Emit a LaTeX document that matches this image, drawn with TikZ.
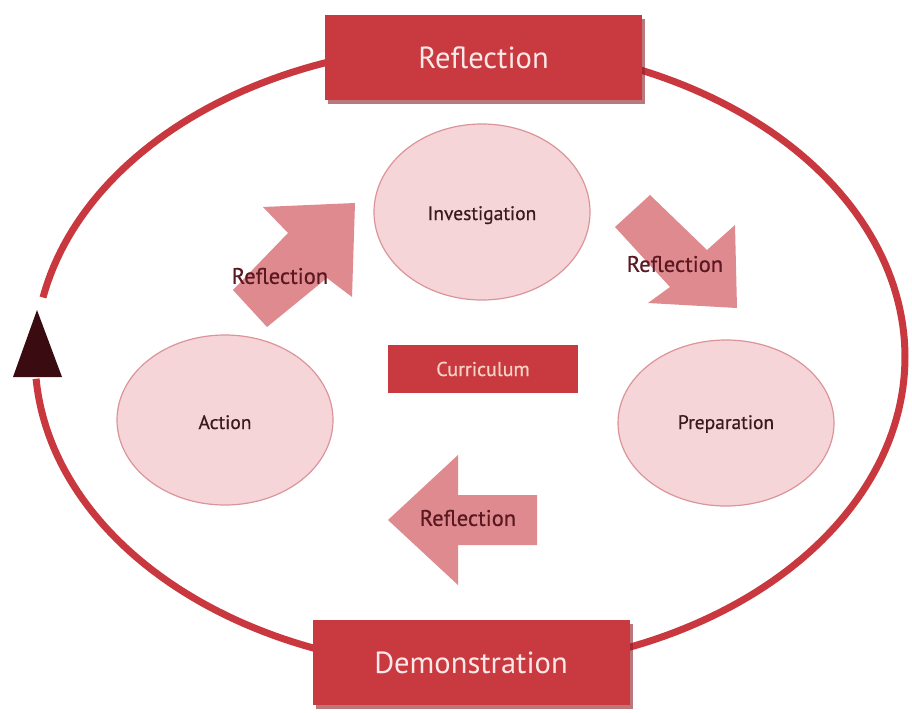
\documentclass[tikz,border=0pt]{standalone}
\usepackage{fontspec}
\setmainfont{PT Sans}
\newfontfamily\semifont[FakeBold=0.6]{PT Sans}
\usetikzlibrary{shapes.geometric,shadows}
\definecolor{ringred}{HTML}{C8383E}
\definecolor{boxred}{HTML}{C93A40}
\definecolor{boxshade}{HTML}{8E1F25}
\definecolor{boxtext}{HTML}{FBE9E9}
\definecolor{currtext}{HTML}{F7D3C6}
\definecolor{ovalfill}{HTML}{F5D5D8}
\definecolor{ovalline}{HTML}{DC9499}
\definecolor{arrowfill}{HTML}{DE8A8F}
\definecolor{arrowtext}{HTML}{5B1820}
\definecolor{ovaltext}{HTML}{3A1A1E}
\definecolor{tipdark}{HTML}{3A0B10}
\begin{document}
\begin{tikzpicture}[x=1pt,y=-1pt,
 bigbox/.style={draw=none, fill=boxred, text=boxtext, minimum width=317pt, minimum height=85pt, inner sep=0pt, font=\fontsize{30.5}{33}\selectfont, drop shadow={fill=boxshade, opacity=0.6, shadow xshift=3pt, shadow yshift=-4pt}},
 oval/.style={ellipse, draw=ovalline, line width=1.2pt, fill=ovalfill, text=ovaltext, minimum width=216pt, minimum height=172pt, font=\semifont\fontsize{19.5}{22}\selectfont, inner sep=0pt},
 bigarrow/.style={fill=arrowfill, draw=none},
 arrowlabel/.style={text=arrowtext, font=\semifont\fontsize{22.5}{25}\selectfont, inner sep=0pt},
 smallbox/.style={fill=boxred, text=currtext, minimum width=190pt, minimum height=48pt, inner sep=0pt, font=\semifont\fontsize{20}{22}\selectfont},
 ovaltxt/.style={text=ovaltext, font=\semifont\fontsize{19.5}{22}\selectfont, inner sep=0pt, anchor=base},
]
\useasboundingbox (0,0) rectangle (912,712);
\fill[white] (0,0) rectangle (912,712);
% outer cycle
\draw[ringred, line width=7pt] plot[domain=191:536, samples=240, variable=\t] ({470+435*cos(\t)},{357+312*sin(\t)});
\fill[tipdark] (13,377) -- (62,377) -- (37,310) -- cycle;
% boxes on the cycle
\node[bigbox] (top) at (483.5,57.5) {Reflection};
\node[bigbox] (bottom) at (471,662.5) {Demonstration};
% ovals
\node[oval, minimum height=176pt] (inv) at (482,212) {};
\node[ovaltxt] (invt) at (482,220) {Investigation};
\node[oval, minimum height=170pt] (act) at (225,420) {};
\node[ovaltxt] (actt) at (225,429) {Action};
\node[oval, minimum height=166pt] (prep) at (726,423) {};
\node[ovaltxt] (prept) at (726,429) {Preparation};
% centre
\node[smallbox] (curr) at (483,369) {Curriculum};
% block arrows
\fill[bigarrow] (355,203) -- (263,207) -- (288,233) -- (233,290) -- (267,327) -- (327,278) -- (352,297) -- cycle;
\node[arrowlabel] (lab1) at (280,276) {Reflection};
\fill[bigarrow] (650,195) -- (707,250) -- (735,225) -- (737,308) -- (648,303) -- (670,287) -- (615,227) -- cycle;
\node[arrowlabel] (lab2) at (675,264) {Reflection};
\fill[bigarrow] (388,520) -- (458,455) -- (458,495) -- (537,495) -- (537,545) -- (458,545) -- (458,585) -- cycle;
\node[arrowlabel] (lab3) at (468,518) {Reflection};
\end{tikzpicture}
\end{document}
